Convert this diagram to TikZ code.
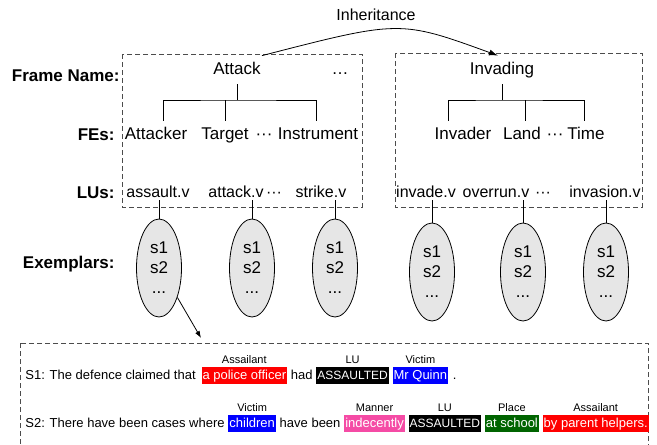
\documentclass[tikz,border=0pt]{standalone}
\usepackage{fontspec}
\setmainfont{Liberation Sans}
\usetikzlibrary{positioning,shapes.geometric,arrows.meta}

\definecolor{hlred}{RGB}{255,0,0}
\definecolor{hlblue}{RGB}{0,0,255}
\definecolor{hlpink}{RGB}{245,75,165}
\definecolor{hlgreen}{RGB}{0,100,0}
\definecolor{exfill}{RGB}{230,230,230}

\newcommand{\middots}{\textperiodcentered\textperiodcentered\textperiodcentered}

\tikzset{
  rowlabel/.style={font=\fontsize{17}{20}\selectfont\bfseries, anchor=base east, inner sep=0pt},
  word/.style={font=\fontsize{17}{20}\selectfont, anchor=base, text height=12pt, text depth=4pt, inner xsep=1pt, inner ysep=6pt},
  luword/.style={word, font=\fontsize{16}{20}\selectfont},
  framebox/.style={draw=black!70, dash pattern=on 5pt off 3pt, line width=1pt},
  exemplar/.style={ellipse, draw, fill=exfill, minimum width=45pt, minimum height=98pt, inner sep=0pt, align=center, font=\fontsize{17}{20}\selectfont},
  sent/.style={font=\fontsize{13}{15}\selectfont, inner sep=0pt, text height=11pt, text depth=3.5pt},
  hl/.style={sent, text=white, inner xsep=1pt, inner ysep=1.5pt},
  lu/.style={hl, fill=black, font=\fontsize{12}{15}\selectfont},
  role/.style={font=\fontsize{11}{13}\selectfont, inner sep=1pt},
}

\begin{document}
\begin{tikzpicture}[x=1pt, y=-1pt, line width=0.8pt]
\useasboundingbox (0,0) rectangle (657,445);

% frames
\draw[framebox] (122,54) rectangle (362,207);
\draw[framebox] (395,53) rectangle (642,207);
\draw[framebox] (20,343) rectangle (648,470);

% row labels
\node[rowlabel] (lframe) at (120,81) {Frame Name:};
\node[rowlabel] (lfes) at (115,140) {FEs:};
\node[rowlabel] (llus) at (115,198) {LUs:};
\node[rowlabel] (lex) at (115,268) {Exemplars:};

% Attack frame
\node[word] (attack) at (237,74) {Attack};
\node[word] (fdots) at (340,74) {\dots};
\node[word] (attacker) at (156,139) {Attacker};
\node[word] (target) at (225,139) {Target};
\node[word] (fedotsA) at (264,139) {\middots};
\node[word] (instrument) at (318,139) {Instrument};
\node[luword] (assault) at (158,197) {assault.v};
\node[luword] (attackv) at (236,197) {attack.v};
\node[luword] (ludotsA) at (274,197) {\middots};
\node[luword] (strike) at (321,197) {strike.v};

\draw (attack) -- (attack |- 0,100) coordinate (barA);
\draw ([xshift=7pt]attacker.north) |- (barA) -| ([xshift=-2pt]instrument.north);
\draw (target) -- (target |- barA);

% Invading frame
\node[word] (invading) at (502,74) {Invading};
\node[word] (invader) at (463,139) {Invader};
\node[word] (land) at (522,139) {Land};
\node[word] (fedotsB) at (555,139) {\middots};
\node[word] (time) at (586,139) {Time};
\node[luword] (invade) at (426,197) {invade.v};
\node[luword] (overrun) at (496,197) {overrun.v};
\node[luword] (ludotsB) at (543,197) {\middots};
\node[luword] (invasion) at (605,197) {invasion.v};

\draw (invading) -- (invading |- 0,100) coordinate (barB);
\draw ([xshift=-15pt]invader.north) |- (barB) -| ([xshift=-2pt]time.north);
\draw ([xshift=3pt]land.north) -- ([xshift=3pt]land.north |- barB);

% inheritance
\node[font=\fontsize{16}{19}\selectfont] (inherit) at (376,15) {Inheritance};
\draw[-{Latex[length=9pt,width=6pt]}] (attack.north east) .. controls (400,20) .. ([xshift=-4pt]invading.north);

% exemplars
\foreach \n/\x/\y in {1/159/268, 2/252/268, 3/335/268, 4/432/272, 5/523/272, 6/606/272}{
  \coordinate (lu\n) at (\x,200);
  \node[exemplar] (ex\n) at (\x,\y) {s1\\s2\\...};
  \draw (lu\n) -- (ex\n);
}
\coordinate (stop) at (201,338);
\draw[-{Latex[length=7pt,width=5pt]}] (ex1.-58) -- (stop);

% S1
\node[sent, anchor=base west] (s1a) at (25,379) {S1: The defence claimed that};
\node[hl, fill=hlred, base right=5pt of s1a] (s1b) {a police officer};
\node[sent, base right=3pt of s1b] (s1c) {had};
\node[lu, base right=3pt of s1c] (s1d) {ASSAULTED};
\node[hl, fill=hlblue, base right=3pt of s1d] (s1e) {Mr Quinn};
\node[sent, base right=4pt of s1e] (s1f) {.};
\node[role, above=1pt of s1b] (r1b) {Assailant};
\node[role, above=1pt of s1d] (r1d) {LU};
\node[role, above=1pt of s1e] (r1e) {Victim};

% S2
\node[sent, anchor=base west] (s2a) at (25,427) {S2: There have been cases where};
\node[hl, fill=hlblue, base right=3pt of s2a] (s2b) {children};
\node[sent, base right=3pt of s2b] (s2c) {have been};
\node[hl, fill=hlpink, base right=3pt of s2c] (s2d) {indecently};
\node[lu, base right=3pt of s2d] (s2e) {ASSAULTED};
\node[hl, fill=hlgreen, base right=3pt of s2e] (s2f) {at school};
\node[hl, fill=hlred, base right=3pt of s2f] (s2g) {by parent helpers.};
\node[role, above=1pt of s2b] (r2b) {Victim};
\node[role, above=1pt of s2d] (r2d) {Manner};
\node[role, above=1pt of s2e] (r2e) {LU};
\node[role, above=1pt of s2f] (r2f) {Place};
\node[role, above=1pt of s2g] (r2g) {Assailant};

\end{tikzpicture}
\end{document}
